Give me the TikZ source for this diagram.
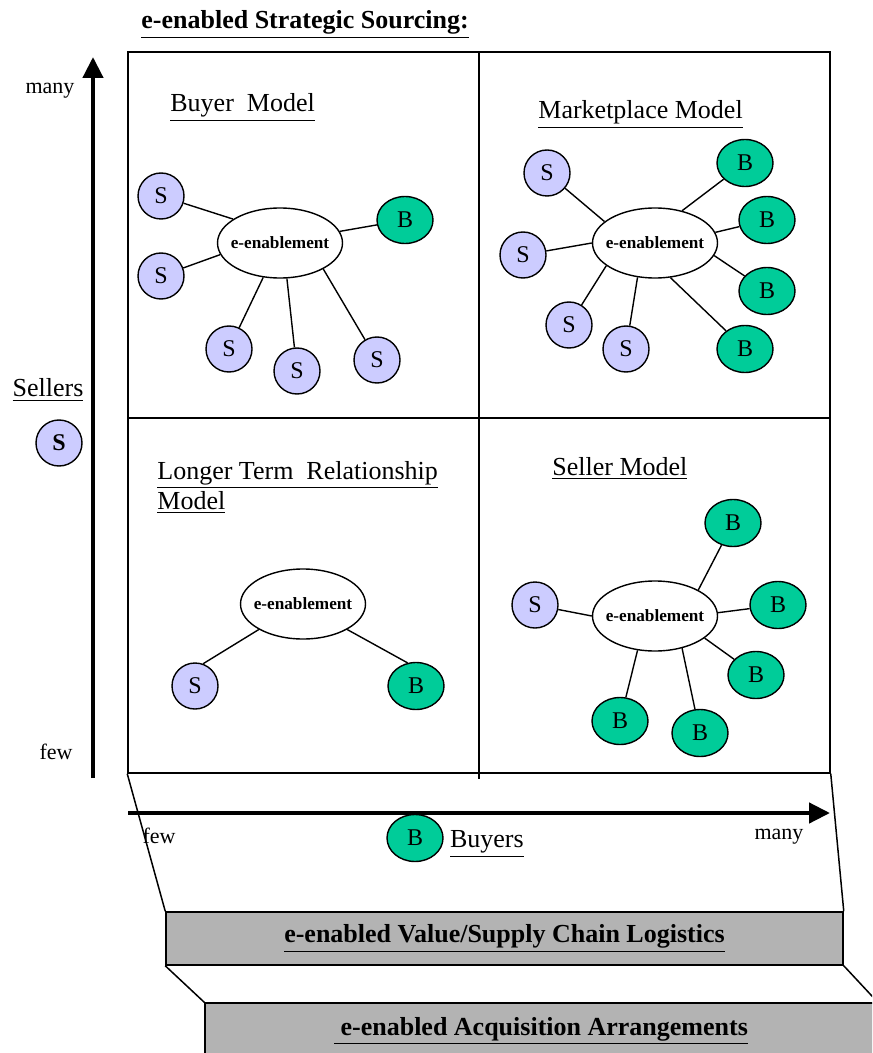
\documentclass[tikz,border=0pt]{standalone}
\usepackage{fontspec}
\setmainfont{Liberation Serif}
\usetikzlibrary{arrows.meta, positioning, shapes.geometric}
\definecolor{sellerblue}{RGB}{204,204,255}
\definecolor{buyergreen}{RGB}{0,204,153}
\definecolor{layergray}{RGB}{179,179,179}

\begin{document}
\begin{tikzpicture}[x=0.5pt, y=-0.5pt,
			sel/.style={circle, draw, fill=sellerblue, line width=0.7pt,
				minimum size=23pt, inner sep=0pt, font=\fontsize{12}{14}\selectfont},
			buy/.style={ellipse, draw, fill=buyergreen, line width=0.7pt,
				minimum width=28pt, minimum height=23.5pt, inner sep=0pt, font=\fontsize{12}{14}\selectfont},
			hub/.style={ellipse, draw, fill=white, line width=0.7pt,
				minimum width=62.5pt, minimum height=35pt, inner xsep=-3pt, inner ysep=0pt,
				font=\bfseries\fontsize{8.6}{10}\selectfont},
			link/.style={line width=0.7pt},
			axis/.style={-{Triangle[length=10.5pt, width=10pt]}, line width=2.2pt},
			modeltitle/.style={anchor=base west, inner sep=0pt, font=\fontsize{13}{15}\selectfont},
			tick/.style={inner sep=0pt, font=\fontsize{11}{13}\selectfont},
			axislabel/.style={inner sep=0pt, font=\fontsize{13}{15}\selectfont},
			layer/.style={draw, fill=layergray, line width=0.75pt, inner sep=0pt,
				font=\bfseries\fontsize{13}{15}\selectfont}
			]
			\clip (0,0) rectangle (872,1053);
			
			% Heading
			\node[modeltitle, font=\bfseries\fontsize{13}{15}\selectfont] (title) at (141,29) {\underline{e-enabled Strategic Sourcing:}};
			
			% Quadrants
			\node[draw, line width=0.75pt, minimum width=351pt, minimum height=360.5pt, inner sep=0pt] (grid) at (479,412.5) {};
			\draw[line width=0.75pt] (grid.north) -- ++(0,728);
			\draw[line width=0.75pt] (128,418) -- (830,418);
			
			% Layers below
			\node[layer, minimum width=338.5pt, minimum height=26.5pt] (logi) at (504.5,938.5) {\underline{e-enabled Value/Supply Chain Logistics}};
			\node[layer, minimum width=336pt, minimum height=28pt] (acqu) at (541,1031) {\underline{~e-enabled Acquisition Arrangements}};
			\draw[line width=0.75pt] (grid.south west) -- (logi.north west);
			\draw[line width=0.75pt] (grid.south east) -- (logi.north east);
			\draw[line width=0.75pt] (logi.south west) -- (acqu.north west);
			\draw[line width=0.75pt] (logi.south east) -- (acqu.north east);
			
			% Axes
			\coordinate (yfrom) at (93,778);
			\coordinate (yto) at (93,57);
			\coordinate (xfrom) at (128,813);
			\coordinate (xto) at (830,813);
			\draw[axis] (yfrom) -- (yto);
			\draw[axis] (xfrom) -- (xto);
			
			\node[tick] (ymany) at (50,91) {many};
			\node[tick] (yfew) at (56,752) {few};
			\node[tick] (xfew) at (159,836) {few};
			\node[tick] (xmany) at (779,837) {many};
			
			\node[axislabel] (sellers) at (48,390) {\underline{Sellers}};
			\node[sel, font=\bfseries\fontsize{12}{14}\selectfont] (Sy) at (59,443) {S};
			\node[buy] (Bx) at (415,838) {B};
			\node[axislabel, right=3pt of Bx, yshift=-3pt] (buyers) {\underline{Buyers}};
			
			% Buyer model - top left
			\node[modeltitle] (tbuy) at (170,112) {\underline{Buyer~~Model}};
			\node[hub] (Eb) at (280,243) {e-enablement};
			\node[sel] (Sb1) at (161,196) {S};
			\node[sel] (Sb2) at (161,276) {S};
			\node[sel] (Sb3) at (229,349) {S};
			\node[sel] (Sb4) at (297,371) {S};
			\node[sel] (Sb5) at (377,360) {S};
			\node[buy] (Bb1) at (405,220) {B};
			
			% Marketplace model - top right
			\node[modeltitle] (tmkt) at (538,119) {\underline{Marketplace Model}};
			\node[hub] (Em) at (655,243) {e-enablement};
			\node[sel] (Sm1) at (547,173) {S};
			\node[sel] (Sm2) at (523,255) {S};
			\node[sel] (Sm3) at (569,325) {S};
			\node[sel] (Sm4) at (626,349) {S};
			\node[buy] (Bm1) at (745,163) {B};
			\node[buy] (Bm2) at (767,220) {B};
			\node[buy] (Bm3) at (767,291) {B};
			\node[buy] (Bm4) at (745,349) {B};
			
			% Longer term relationship model - bottom left
			\node[modeltitle, anchor=north west, align=left] (tlong) at (157,461) {\underline{Longer Term~~Relationship}\\\underline{Model}};
			\node[hub] (El) at (303,604) {e-enablement};
			\node[sel] (Sl) at (195,686) {S};
			\node[buy] (Bl) at (416,686) {B};
			
			% Seller model - bottom right
			\node[modeltitle] (tsel) at (552,475) {\underline{Seller Model}};
			\node[hub] (Es) at (655,616) {e-enablement};
			\node[sel] (Ss) at (535,605) {S};
			\node[buy] (Bs1) at (733,523) {B};
			\node[buy] (Bs2) at (778,605) {B};
			\node[buy] (Bs3) at (756,675) {B};
			\node[buy] (Bs4) at (620,721) {B};
			\node[buy] (Bs5) at (700,733) {B};
			
			% Links
			\draw[link] (Sb1) -- (Eb.153);
			\draw[link] (Sb2) -- (Eb.191);
			\draw[link] (Sb3) -- (Eb.244);
			\draw[link] (Sb4) -- (Eb.281);
			\draw[link] (Sb5) -- (Eb.329);
			\draw[link] (Eb.11) -- (Bb1);
			
			\draw[link] (Sm1) -- (Em.157);
			\draw[link] (Sm2) -- (Em.180);
			\draw[link] (Sm3) -- (Em.205);
			\draw[link] (Sm4) -- (Em.243);
			\draw[link] (Em.50) -- (Bm1);
			\draw[link] (Em.10) -- (Bm2);
			\draw[link] (Em.348) -- (Bm3);
			\draw[link] (Em.294) -- (Bm4);
			
			\draw[link] (Sl.70) -- (El.210);
			\draw[link] (El.330) -- (Bl.110);
			
			\draw[link] (Ss) -- (Es.180);
			\draw[link] (Es.31) -- (Bs1);
			\draw[link] (Es.3) -- (Bs2);
			\draw[link] (Es.336) -- (Bs3);
			\draw[link] (Es.243) -- (Bs4);
			\draw[link] (Es.310) -- (Bs5);
			
		\end{tikzpicture}
\end{document}
